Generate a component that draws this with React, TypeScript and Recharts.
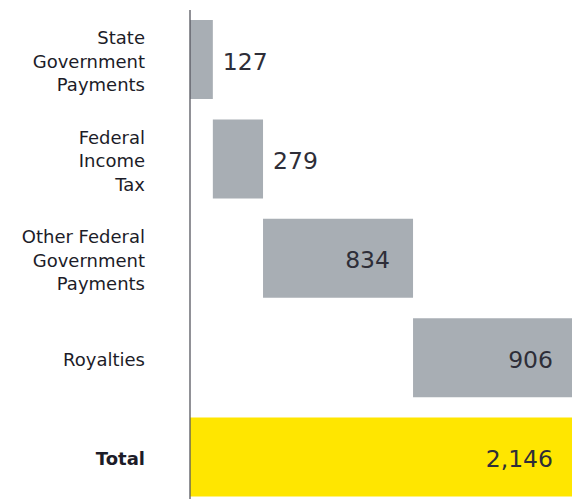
import { BarChart, Bar, XAxis, YAxis, Cell, LabelList } from "recharts";

const categories = ["State Government Payments", "Federal Income Tax", "Other Federal Government Payments", "Royalties", "Total"];
const categoryLines = [
  ["State", "Government", "Payments"],
  ["Federal", "Income", "Tax"],
  ["Other Federal", "Government", "Payments"],
  ["Royalties"],
  ["Total"],
];
const amounts = [127, 279, 834, 906, 2146];
const valueLabels = ["127", "279", "834", "906", "2,146"];
const isTotal = [false, false, false, false, true];

// waterfall: each step starts where the previous ones ended, total starts at 0
let running = 0;
const data = categories.map((name, i) => {
  const base = isTotal[i] ? 0 : running;
  if (!isTotal[i]) running += amounts[i];
  return { name, base, value: amounts[i], label: valueLabels[i], idx: i };
});

const FONT = "'DejaVu Sans', sans-serif";
const GREY = "#a8aeb4";
const YELLOW = "#ffe600";

const CategoryTick = (props: any) => {
  const { x, y, payload } = props;
  const i = categories.indexOf(payload.value);
  const lines = categoryLines[i] || [payload.value];
  const lh = 23.5;
  const start = -((lines.length - 1) * lh) / 2;
  return (
    <g>
      {lines.map((l, k) => (
        <text
          key={k}
          x={x - 37}
          y={y + 1.5 + start + k * lh + 6.5}
          textAnchor="end"
          fontFamily={FONT}
          fontSize={18}
          fontWeight={isTotal[i] ? 700 : 400}
          fill="#1c1c28"
        >
          {l}
        </text>
      ))}
    </g>
  );
};

const ValueLabel = (props: any) => {
  const { x, y, width, height, index } = props;
  const d = data[index];
  const outside = width < 60;
  const cy = y + height / 2 + 1.5 + 8.5;
  return (
    <text
      x={outside ? x + width + 10 : x + width - 23}
      y={cy}
      textAnchor={outside ? "start" : "end"}
      fontFamily={FONT}
      fontSize={23.5}
      fill="#2e2e38"
    >
      {d.label}
    </text>
  );
};

export default function App() {
  return (
    <div style={{ position: "absolute", left: 0, top: 0, width: 572, height: 499, overflow: "hidden", background: "#fff" }}>
      <BarChart
        width={600}
        height={520}
        data={data}
        layout="vertical"
        margin={{ top: 10, right: 24, left: 0, bottom: 13 }}
        barSize={79}
      >
        <XAxis type="number" hide domain={[0, 2146]} />
        <YAxis
          type="category"
          dataKey="name"
          width={190}
          axisLine={{ stroke: "#55565f", strokeWidth: 1.3 }}
          tickLine={false}
          tick={<CategoryTick />}
          interval={0}
        />
        <Bar dataKey="base" stackId="a" fill="transparent" isAnimationActive={false} />
        <Bar dataKey="value" stackId="a" isAnimationActive={false}>
          {data.map((d, i) => (
            <Cell key={i} fill={isTotal[i] ? YELLOW : GREY} />
          ))}
          <LabelList dataKey="label" content={<ValueLabel />} />
        </Bar>
      </BarChart>
    </div>
  );
}
